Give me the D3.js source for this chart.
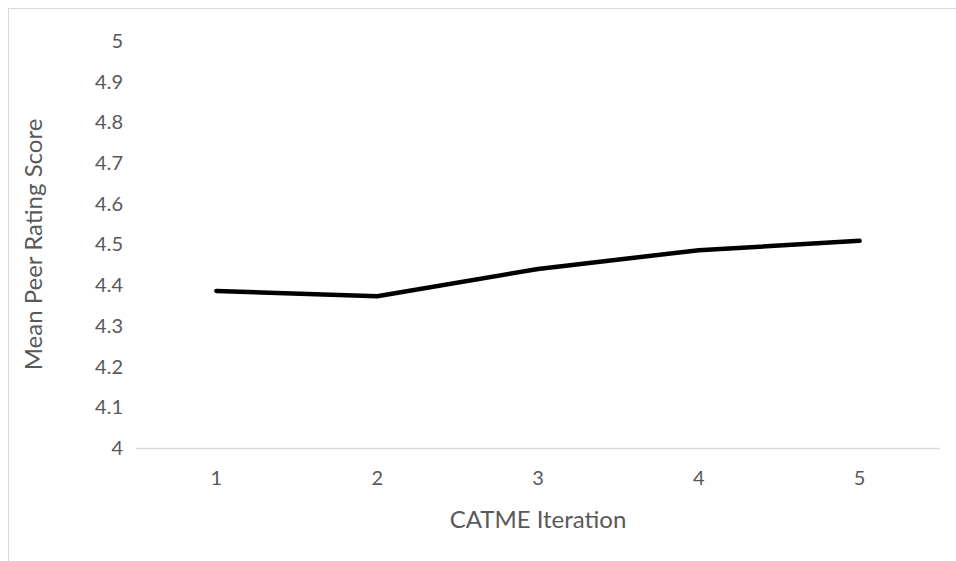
<!DOCTYPE html>
<html>
<head>
<meta charset="utf-8">
<script src="https://cdn.jsdelivr.net/npm/d3@7"></script>
<style>
  html, body { margin: 0; padding: 0; background: #fff; }
  svg { display: block; }
  text { font-family: Lato, "Open Sans", sans-serif; fill: #595959; }
</style>
</head>
<body>
<svg id="chart" width="956" height="561"></svg>
<script>
const categories = ["1", "2", "3", "4", "5"];
const values = [4.386, 4.373, 4.44, 4.486, 4.509];
const yTicks = [4, 4.1, 4.2, 4.3, 4.4, 4.5, 4.6, 4.7, 4.8, 4.9, 5];
const xTitle = "CATME Iteration";
const yTitle = "Mean Peer Rating Score";

const svg = d3.select("#chart");
const plot = { left: 136, right: 940, top: 41, bottom: 448 };

// outer chart border (only top/left visible)
svg.append("rect")
  .attr("x", 8.5).attr("y", 8.5)
  .attr("width", 1000).attr("height", 1000)
  .attr("fill", "none").attr("stroke", "#d9d9d9").attr("stroke-width", 1);

const x = d3.scaleBand().domain(categories).range([plot.left, plot.right]);
const y = d3.scaleLinear().domain([4, 5]).range([plot.bottom, plot.top]);

// y axis labels
const yAxis = d3.axisLeft(y).tickValues(yTicks).tickSize(0).tickPadding(0)
  .tickFormat(d => String(+d.toFixed(1)));
const gy = svg.append("g").attr("transform", `translate(${plot.left - 13},0)`).call(yAxis);
gy.select(".domain").remove();
gy.selectAll("text").style("font-size", "20px").attr("fill", "#595959")
  .style("font-family", "Lato, sans-serif");

// baseline
svg.append("line")
  .attr("x1", plot.left).attr("x2", plot.right)
  .attr("y1", y(4) + 0.5).attr("y2", y(4) + 0.5)
  .attr("stroke", "#d9d9d9").attr("stroke-width", 1.3);

// x axis labels
const xAxis = d3.axisBottom(x).tickSize(0).tickPadding(0);
const gx = svg.append("g").attr("transform", `translate(0,${plot.bottom + 23})`).call(xAxis);
gx.select(".domain").remove();
gx.selectAll("text").style("font-size", "20px").attr("fill", "#595959")
  .style("font-family", "Lato, sans-serif");

// line
const line = d3.line()
  .x((d, i) => x(categories[i]) + x.bandwidth() / 2)
  .y(d => y(d));
svg.append("path")
  .datum(values)
  .attr("d", line)
  .attr("fill", "none")
  .attr("stroke", "#000")
  .attr("stroke-width", 4.5)
  .attr("stroke-linecap", "round")
  .attr("stroke-linejoin", "round");

// titles
svg.append("text")
  .attr("x", (plot.left + plot.right) / 2)
  .attr("y", 528)
  .attr("text-anchor", "middle")
  .style("font-size", "24px")
  .text(xTitle);

svg.append("text")
  .attr("transform", `translate(42,${(plot.top + plot.bottom) / 2}) rotate(-90)`)
  .attr("text-anchor", "middle")
  .style("font-size", "24px")
  .text(yTitle);
</script>
</body>
</html>
